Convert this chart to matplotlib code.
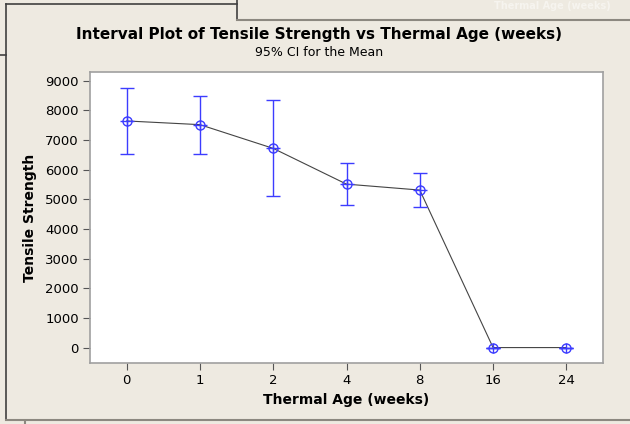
import matplotlib.pyplot as plt
from matplotlib.lines import Line2D
import numpy as np

# weeks of thermal ageing, tensile strength means and 95% CI bounds
ages = ['0', '1', '2', '4', '8', '16', '24']
means = [7640, 7515, 6715, 5510, 5310, 0, 0]
ci_low = [6525, 6525, 5095, 4805, 4725, 0, 0]
ci_high = [8760, 8470, 8335, 6220, 5870, 0, 0]
yticks = [0, 1000, 2000, 3000, 4000, 5000, 6000, 7000, 8000, 9000]

W, H = 630, 424
bg = '#EEEAE1'
blue = '#3c3cff'

fig = plt.figure(figsize=(W / 100, H / 100), dpi=100, facecolor=bg)
ax = fig.add_axes([90 / W, 1 - 363 / H, 513 / W, 291 / H])
ax.set_facecolor('white')

x = np.arange(len(ages))
m = np.array(means)
err = [m - np.array(ci_low), np.array(ci_high) - m]

ax.plot(x, m, color='#444444', lw=0.8, zorder=2)
ax.errorbar(x, m, yerr=err, fmt='none', ecolor=blue, elinewidth=1.0,
            capsize=5, capthick=1.0, zorder=3)
ax.plot(x, m, 'o', ms=6.5, mfc='none', mec=blue, mew=1.0, zorder=4)
ax.plot(x, m, '_', ms=10, mec=blue, mew=1.0, zorder=4)
ax.plot(x, m, '|', ms=7, mec=blue, mew=1.0, zorder=4)

ax.set_xlim(-0.5, 6.5)
ax.set_ylim(-520, 9290)
ax.set_xticks(x)
ax.set_xticklabels(ages)
ax.set_yticks(yticks)
ax.tick_params(direction='out', length=5, width=0.8, color='#555555',
               labelsize=9.5, pad=3)
for s in ax.spines.values():
    s.set_color('#a0a0a0')
    s.set_linewidth(1.2)

ax.set_xlabel('Thermal Age (weeks)', fontsize=10, fontweight='bold', labelpad=4)
ax.set_ylabel('Tensile Strength', fontsize=10, fontweight='bold', labelpad=6)

fig.text(319 / W, 1 - 34 / H, 'Interval Plot of Tensile Strength vs Thermal Age (weeks)',
         ha='center', va='center', fontsize=11, fontweight='bold')
fig.text(319 / W, 1 - 52 / H, '95% CI for the Mean', ha='center', va='center',
         fontsize=9)

# window frame bits of the screenshot
def pline(xs, ys, c='#404040', lw=1.2):
    fig.add_artist(Line2D([v / W for v in xs], [1 - v / H for v in ys],
                          color=c, lw=lw, transform=fig.transFigure))

pline([6, 237], [4, 4])
pline([6, 6], [4, 420])
pline([237, 237], [0, 20])
pline([237, 630], [20, 20], c='#8c8880', lw=1.5)
pline([0, 6], [55, 55])
pline([6, 630], [420, 420], c='#8c8880', lw=1.5)
pline([25, 25], [421, 424], c='#8c8880', lw=1.5)
fig.text(494 / W, 1 - 1 / H, 'Thermal Age (weeks)', ha='left', va='top',
         fontsize=7, fontweight='bold', color='#f6f4ef')

fig.savefig('out.png', dpi=100, facecolor=bg)
